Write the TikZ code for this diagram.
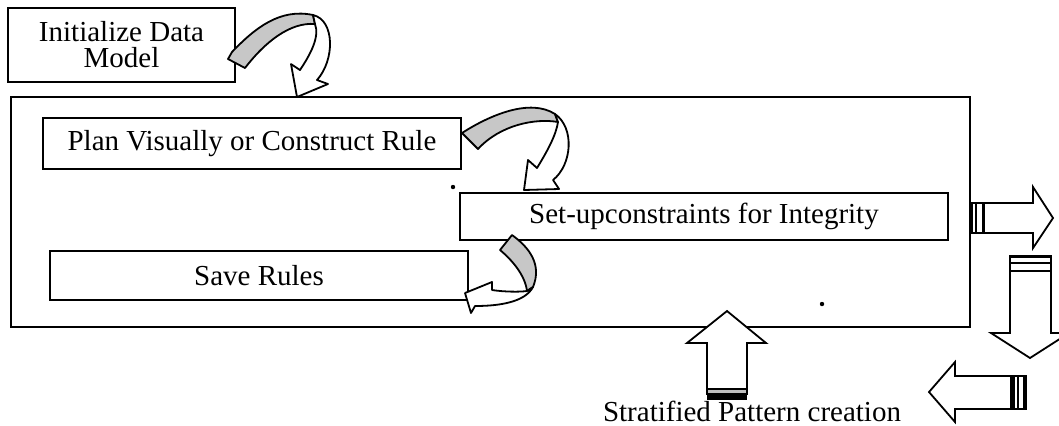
\documentclass[tikz,border=0pt]{standalone}
\usepackage{fontspec}
\setmainfont{Liberation Serif}

\begin{document}
\begin{tikzpicture}[x=0.5pt,y=-0.5pt,line width=0.9pt,
                    box/.style={draw,rectangle,inner sep=0pt,font=\fontsize{14.5}{13}\selectfont},
                    curl/.style={draw,line join=round},
                    block/.style={draw,fill=white,line join=miter}]
  \useasboundingbox (0,0) rectangle (1059,425);
  \node[box,minimum width=479.5pt,minimum height=115pt] (frame) at (490.5,212) {};
  \node[box,minimum width=113.5pt,minimum height=37pt,align=center] (init) at (121.5,45) {Initialize Data\\Model};
  \node[box,minimum width=209pt,minimum height=25.5pt] (plan) at (252,143.5) {Plan Visually or Construct Rule};
  \node[box,minimum width=244pt,minimum height=23.5pt] (setup) at (704,216.5) {Set-upconstraints for Integrity};
  \node[box,minimum width=209pt,minimum height=24.5pt] (save) at (259,275.5) {Save Rules};
  \node[font=\fontsize{14.5}{13}\selectfont] (strat) at (752,411) {Stratified Pattern creation};
  \fill (453,187) circle (1.1pt);
  \fill (822,304) circle (1.1pt);
  % curved arrows
  \draw[curl,fill=black!22] (232,52) .. controls (255,28) and (280,8) .. (313,15) -- (315,24)
    .. controls (290,22) and (265,42) .. (245,68) -- (228,59) -- cycle;
  \draw[curl,fill=white] (313,15) .. controls (335,20) and (335,60) .. (317,80) -- (328,84) -- (297,97)
    -- (291,64) -- (300,70) .. controls (310,55) and (320,37) .. (315,24) -- cycle;
  \draw[curl,fill=black!22] (462,133) .. controls (490,115) and (530,98) .. (555,114) -- (558,122)
    .. controls (535,118) and (500,125) .. (478,149) -- cycle;
  \draw[curl,fill=white] (555,114) .. controls (575,128) and (572,165) .. (553,180) -- (559,189) -- (524,190)
    -- (528,160) -- (537,168) .. controls (548,150) and (556,135) .. (558,122) -- cycle;
  \draw[curl,fill=black!22] (500,250) -- (512,235) .. controls (530,248) and (542,265) .. (533,287) -- (527,291)
    .. controls (525,275) and (512,260) .. (500,250) -- cycle;
  \draw[curl,fill=white] (533,287) .. controls (525,302) and (500,306) .. (475,306) -- (471,313) -- (465,293)
    -- (492,282) -- (492,290) .. controls (505,292) and (520,292) .. (527,291) -- cycle;
  % block arrows
  \draw[block] (970,203) -- (1033,203) -- (1033,187) -- (1053,218) -- (1033,248) -- (1033,233) -- (970,233);
  \fill (969,203) rectangle (973,233);
  \fill (975,203) rectangle (977,233);
  \fill (982,203) rectangle (985,233);
  \draw[block] (1010,256) -- (1010,333) -- (991,333) -- (1030,358) -- (1069,333) -- (1051,333) -- (1051,256) -- cycle;
  \fill (1010,255) rectangle (1051,258);
  \fill (1010,262) rectangle (1051,264);
  \fill (1010,270) rectangle (1051,272);
  \draw[block] (1026,376) -- (955,376) -- (955,362) -- (929,392) -- (955,422) -- (955,409) -- (1026,409) -- cycle;
  \fill (1010,376) rectangle (1015,409);
  \fill (1017,376) rectangle (1019,409);
  \fill (1023,376) rectangle (1026,409);
  \draw[block] (707,389) -- (707,343) -- (687,343) -- (727,311) -- (766,343) -- (747,343) -- (747,389);
  \draw[fill=black!25] (707,389) rectangle (747,394);
  \fill (707,394) rectangle (747,400);
\end{tikzpicture}
\end{document}
